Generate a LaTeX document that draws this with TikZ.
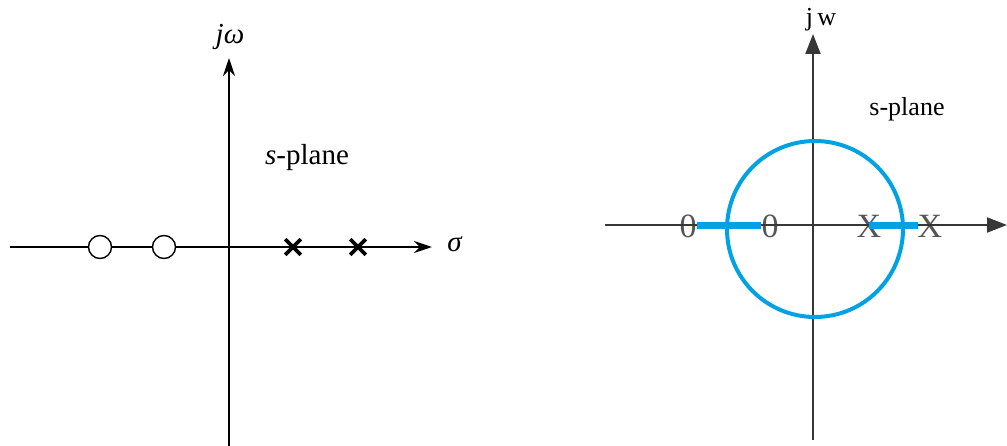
\documentclass[tikz,border=0pt]{standalone}
\usepackage{fontspec}
\setmainfont{Liberation Serif}
\usepackage{tikz}
\usetikzlibrary{arrows.meta, positioning, shapes.misc}
\definecolor{locus}{RGB}{0,162,228}
\definecolor{axisgrey}{RGB}{55,55,55}
\definecolor{markgrey}{RGB}{85,85,85}

\begin{document}
\begin{tikzpicture}[x=1pt, y=-1pt,
        axis/.style={line width=2.4pt, -{Stealth[length=18pt, width=12pt]}},
        rootaxis/.style={line width=2pt, draw=axisgrey, -{Triangle[length=20pt, width=15pt]}},
        zeromark/.style={circle, draw, line width=1.4pt, fill=white, minimum size=23pt, inner sep=0pt},
        polemark/.style={cross out, draw, line width=3.6pt, minimum size=12pt, inner sep=0pt},
        rootmark/.style={text=markgrey, font=\fontsize{34}{36}\selectfont, inner sep=0pt},
        branch/.style={draw=locus, line width=7pt},
        lbl/.style={font=\fontsize{29}{31}\selectfont, inner sep=0pt}
    ]
        \useasboundingbox (0,0) rectangle (1007,446);

        % Left plane
        \coordinate (lw) at (10,247);
        \coordinate (le) at (432,247);
        \coordinate (ls) at (229,446);
        \coordinate (ln) at (229,58);
        \draw[axis] (lw) -- (le);
        \draw[axis] (ls) -- (ln);
        \node[zeromark] (z1) at (100,247) {};
        \node[zeromark] (z2) at (164,247) {};
        \node[polemark] (p1) at (293,247) {};
        \node[polemark] (p2) at (358,247) {};
        \node[lbl] (jomega) at (230,37) {\textit{jω}};
        \node[lbl] (sigma) at (455,244) {\textit{σ}};
        \node[lbl] (splane) at (307,158) {\textit{s}-plane};

        % Right plane
        \coordinate (rw) at (605,225);
        \coordinate (re) at (1007,225);
        \coordinate (rs) at (813,440);
        \coordinate (rn) at (813,34);
        \node[rootmark] (rz1) at (688,226) {0};
        \node[rootmark] (rz2) at (770,226) {0};
        \node[rootmark] (rp1) at (869,226) {X};
        \node[rootmark] (rp2) at (930,226) {X};
        \draw[rootaxis] (rw) -- (re);
        \draw[rootaxis] (rs) -- (rn);
        \draw[locus, line width=4pt] (815,229) circle (88);
        \draw[branch] (rz1.east) -- (rz2.west);
        \draw[branch] (rp1.center) -- (rp2.west);
        \node[font=\fontsize{26}{28}\selectfont, inner sep=0pt] (jw) at (821,20) {j\,w};
        \node[font=\fontsize{26}{28}\selectfont, inner sep=0pt] (splane2) at (907,109) {s-plane};
    \end{tikzpicture}
\end{document}
